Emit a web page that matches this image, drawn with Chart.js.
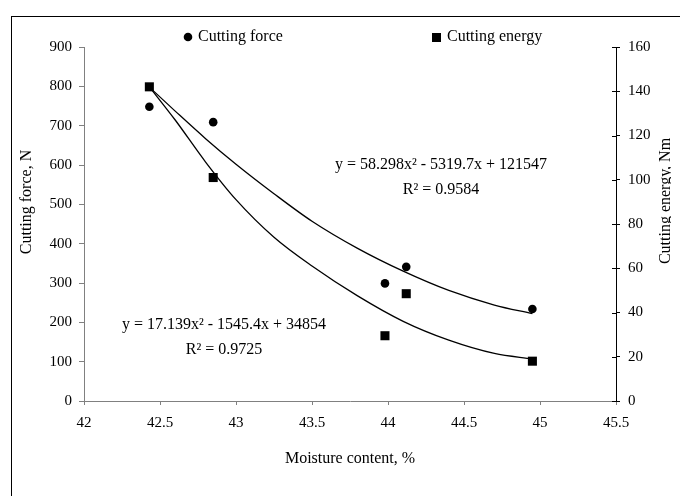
<!DOCTYPE html>
<html>
<head>
<meta charset="utf-8">
<script src="https://cdn.jsdelivr.net/npm/chart.js@4"></script>
<style>
  body { margin: 0; background: #fff; }
  #frame { position: absolute; left: 11px; top: 16px; width: 720px; height: 540px; border: 1px solid #000; }
  #wrap { position: absolute; left: 0; top: 0; width: 680px; height: 496px; }
</style>
</head>
<body>
<div id="frame"></div>
<div id="wrap"><canvas id="grafico" width="680" height="496"></canvas></div>
<script>
// measured points
const moisture = [42.43, 42.85, 43.98, 44.12, 44.95]
const cuttingForce = [748, 709, 299, 341, 234]
const cuttingEnergy = [142, 101, 29.5, 48.5, 18]

// trend curves
const forceFitX = [42.43, 42.6, 42.8, 43.0, 43.25, 43.5, 43.8, 44.1, 44.4, 44.7, 44.95]
const forceFitY = [798, 737, 667, 602, 527, 457, 388, 330, 281, 244, 222]
const energyFitX = [42.43, 42.6, 42.8, 43.0, 43.25, 43.5, 43.8, 44.1, 44.4, 44.7, 44.95]
const energyFitY = [142, 127, 108, 91, 74, 61, 47.5, 36, 27.5, 21.5, 19]

// axis ticks
const moistureTicks = [42, 42.5, 43, 43.5, 44, 44.5, 45, 45.5]
const forceTicks = [0, 100, 200, 300, 400, 500, 600, 700, 800, 900]
const energyTicks = [0, 20, 40, 60, 80, 100, 120, 140, 160]

const serif = '"Liberation Serif", "Times New Roman", serif'

const pts = (xs, ys) => xs.map((x, i) => ({ x: x, y: ys[i] }))
const setTicks = (list) => (scale) => { scale.ticks = list.map(v => ({ value: v })) }

const figureText = {
  id: 'figureText',
  afterDraw(chart) {
    const ctx = chart.ctx
    const area = chart.chartArea
    const yEnergy = chart.scales.yEnergy
    ctx.save()

    // inner half of the right axis ticks
    ctx.strokeStyle = '#000'
    ctx.lineWidth = 1
    yEnergy.ticks.forEach(t => {
      const py = Math.round(yEnergy.getPixelForValue(t.value)) + 0.5
      ctx.beginPath()
      ctx.moveTo(area.right - 4, py)
      ctx.lineTo(area.right, py)
      ctx.stroke()
    })

    ctx.fillStyle = '#000'
    ctx.textBaseline = 'middle'
    ctx.font = '16px ' + serif

    // legend
    ctx.beginPath()
    ctx.arc(188, 37, 4.3, 0, Math.PI * 2)
    ctx.fill()
    ctx.fillText('Cutting force', 198, 37)
    ctx.fillRect(432, 33, 9, 9)
    ctx.fillText('Cutting energy', 447, 37)

    // trendline equations
    ctx.textAlign = 'center'
    ctx.fillText('y = 58.298x\u00B2 - 5319.7x + 121547', 441, 165)
    ctx.fillText('R\u00B2 = 0.9584', 441, 190)
    ctx.fillText('y = 17.139x\u00B2 - 1545.4x + 34854', 224, 325)
    ctx.fillText('R\u00B2 = 0.9725', 224, 350)

    // axis titles
    ctx.save()
    ctx.translate(27, 202)
    ctx.rotate(-Math.PI / 2)
    ctx.fillText('Cutting force, N', 0, 0)
    ctx.restore()

    ctx.save()
    ctx.beginPath()
    ctx.rect(0, 0, 671, chart.height)
    ctx.clip()
    ctx.translate(666, 201)
    ctx.rotate(-Math.PI / 2)
    ctx.fillText('Cutting energy, Nm', 0, 0)
    ctx.restore()

    ctx.restore()
  }
}

new Chart(document.getElementById('grafico'), {
  type: 'scatter',
  data: {
    datasets: [
      {
        label: 'Cutting force',
        data: pts(moisture, cuttingForce),
        yAxisID: 'yForce',
        pointStyle: 'circle',
        pointRadius: 4.3,
        backgroundColor: '#000',
        borderColor: '#000',
        borderWidth: 0
      },
      {
        label: 'Cutting energy',
        data: pts(moisture, cuttingEnergy),
        yAxisID: 'yEnergy',
        pointStyle: 'rect',
        pointRadius: 6.4,
        backgroundColor: '#000',
        borderColor: '#000',
        borderWidth: 0
      },
      {
        label: 'Force trend',
        data: pts(forceFitX, forceFitY),
        yAxisID: 'yForce',
        showLine: true,
        pointRadius: 0,
        borderColor: '#000',
        borderWidth: 1.3,
        tension: 0.4,
        cubicInterpolationMode: 'monotone'
      },
      {
        label: 'Energy trend',
        data: pts(energyFitX, energyFitY),
        yAxisID: 'yEnergy',
        showLine: true,
        pointRadius: 0,
        borderColor: '#000',
        borderWidth: 1.3,
        tension: 0.4,
        cubicInterpolationMode: 'monotone'
      }
    ]
  },
  options: {
    responsive: false,
    devicePixelRatio: 1,
    animation: false,
    layout: { padding: { top: 47, left: 0, right: 0, bottom: 0 } },
    plugins: {
      legend: { display: false },
      tooltip: { enabled: false }
    },
    scales: {
      x: {
        type: 'linear',
        min: 42,
        max: 45.5,
        afterBuildTicks: setTicks(moistureTicks),
        afterFit: (scale) => { scale.height = 95 },
        grid: { drawOnChartArea: false, tickLength: 4, color: '#808080' },
        border: { color: '#808080' },
        ticks: {
          color: '#000',
          padding: 9,
          maxRotation: 0,
          font: { family: serif, size: 15 },
          callback: (v) => String(v)
        },
        title: {
          display: true,
          text: 'Moisture content, %',
          color: '#000',
          font: { family: serif, size: 16 },
          padding: { top: 0, bottom: 28 }
        }
      },
      yForce: {
        type: 'linear',
        position: 'left',
        min: 0,
        max: 900,
        afterBuildTicks: setTicks(forceTicks),
        afterFit: (scale) => { scale.width = 84 },
        grid: { drawOnChartArea: false, tickLength: 5, color: '#808080' },
        border: { color: '#808080' },
        ticks: {
          color: '#000',
          padding: 7,
          font: { family: serif, size: 15 },
          callback: (v) => String(v)
        }
      },
      yEnergy: {
        type: 'linear',
        position: 'right',
        min: 0,
        max: 160,
        afterBuildTicks: setTicks(energyTicks),
        afterFit: (scale) => { scale.width = 64 },
        grid: { drawOnChartArea: false, tickLength: 4, color: '#000' },
        border: { color: '#000' },
        ticks: {
          color: '#000',
          padding: 8,
          font: { family: serif, size: 15 },
          callback: (v) => String(v)
        }
      }
    }
  },
  plugins: [figureText]
})
</script>
</body>
</html>
